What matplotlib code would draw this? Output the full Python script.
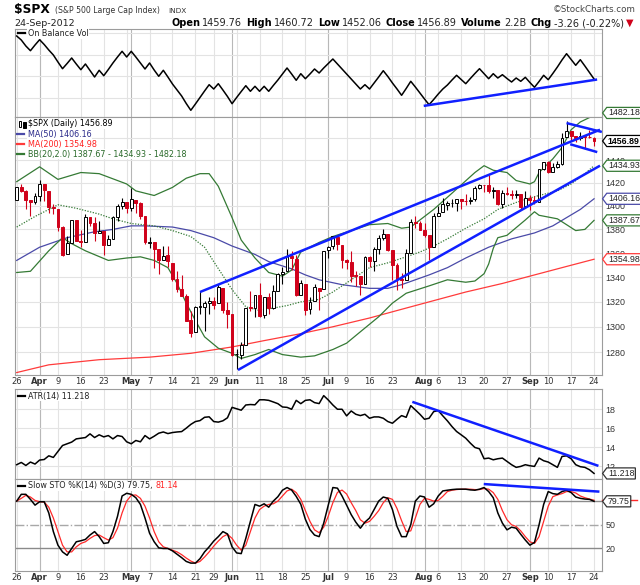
import matplotlib
matplotlib.use("Agg")
import matplotlib.pyplot as plt
from matplotlib.path import Path
from matplotlib.patches import Rectangle
from matplotlib.ticker import NullLocator

plt.rcParams['font.family'] = ['DejaVu Sans']
NARROW = ['Liberation Sans', 'DejaVu Sans']

# === Datos ($SPX diario, 26-Mar-2012 a 24-Sep-2012) ===
prev_close = 1397.11

opens = [1405.52, 1416.55, 1412.52, 1405.39, 1403.31, 1408.47, 1418.98, 1413.09, 1398.79, 1397.45,
         1382.18, 1358.98, 1368.77, 1387.61, 1370.27, 1369.57, 1390.78, 1385.08, 1376.96, 1378.53,
         1366.97, 1372.11, 1390.64, 1400.19, 1403.26, 1397.86, 1405.50, 1402.32, 1391.51, 1368.79,
         1369.16, 1363.20, 1354.58, 1358.11, 1351.93, 1338.36, 1330.78, 1324.82, 1305.05, 1295.73,
         1316.09, 1316.02, 1318.72, 1320.81, 1318.90, 1331.25, 1313.09, 1309.87, 1278.29, 1277.82,
         1285.61, 1316.15, 1314.99, 1325.72, 1309.40, 1324.02, 1314.88, 1329.19, 1342.42, 1344.83,
         1358.04, 1355.43, 1325.92, 1334.90, 1314.09, 1320.71, 1331.52, 1330.12, 1362.33, 1365.75,
         1373.72, 1367.09, 1354.66, 1352.96, 1341.40, 1341.29, 1334.81, 1356.50, 1353.68, 1363.58,
         1373.01, 1376.51, 1362.34, 1350.52, 1338.35, 1338.17, 1360.05, 1385.94, 1385.27, 1379.32,
         1375.13, 1365.45, 1391.04, 1394.46, 1401.23, 1402.26, 1402.58, 1405.87, 1404.36, 1403.89,
         1405.57, 1415.84, 1417.85, 1418.13, 1413.09, 1413.49, 1401.99, 1411.13, 1410.44, 1409.32,
         1410.08, 1400.07, 1406.54, 1404.94, 1403.74, 1432.12, 1437.92, 1429.13, 1433.56, 1436.56,
         1460.07, 1465.42, 1461.19, 1459.50, 1461.05, 1460.34, 1459.76]
highs = [1416.58, 1419.15, 1413.65, 1405.39, 1410.89, 1422.38, 1419.00, 1413.09, 1401.60, 1397.45,
         1383.01, 1374.71, 1388.13, 1387.61, 1379.66, 1392.76, 1390.78, 1390.46, 1387.40, 1378.53,
         1375.57, 1391.37, 1402.09, 1406.64, 1403.26, 1415.32, 1405.50, 1403.07, 1391.51, 1373.91,
         1369.16, 1363.73, 1365.88, 1365.66, 1351.93, 1344.94, 1341.78, 1326.36, 1312.24, 1316.39,
         1328.49, 1320.71, 1324.14, 1324.20, 1334.93, 1331.25, 1319.74, 1309.87, 1282.55, 1287.62,
         1315.13, 1329.05, 1325.81, 1335.52, 1324.31, 1327.28, 1333.68, 1343.32, 1348.22, 1363.46,
         1361.57, 1358.27, 1337.82, 1334.90, 1324.24, 1334.40, 1331.52, 1362.17, 1366.35, 1374.81,
         1373.85, 1367.09, 1354.87, 1361.54, 1345.00, 1341.29, 1357.70, 1357.26, 1365.36, 1375.26,
         1380.39, 1376.51, 1362.34, 1351.53, 1343.98, 1363.13, 1389.19, 1391.74, 1387.16, 1385.03,
         1375.13, 1394.16, 1399.63, 1407.14, 1404.14, 1405.95, 1405.98, 1405.87, 1410.03, 1407.73,
         1417.44, 1418.71, 1418.13, 1426.68, 1416.12, 1413.49, 1413.46, 1416.17, 1413.63, 1413.95,
         1410.08, 1413.09, 1409.31, 1408.81, 1432.12, 1437.92, 1438.74, 1437.76, 1439.15, 1463.76,
         1474.51, 1465.63, 1461.47, 1465.15, 1461.23, 1467.07, 1460.72]
lows = [1405.52, 1411.95, 1397.20, 1391.56, 1401.42, 1404.46, 1404.62, 1394.09, 1392.92, 1378.24,
        1357.38, 1358.98, 1368.77, 1369.85, 1365.38, 1369.57, 1383.29, 1370.30, 1376.96, 1358.79,
        1366.82, 1372.11, 1387.28, 1397.31, 1394.00, 1395.73, 1393.92, 1388.71, 1367.96, 1363.94,
        1347.75, 1343.13, 1354.58, 1348.89, 1336.61, 1328.41, 1324.79, 1304.86, 1291.98, 1295.73,
        1310.04, 1296.53, 1310.50, 1314.23, 1318.90, 1310.76, 1298.90, 1277.25, 1266.74, 1274.16,
        1285.61, 1312.68, 1307.77, 1307.73, 1306.62, 1310.51, 1314.14, 1329.19, 1334.46, 1344.83,
        1346.45, 1324.41, 1325.92, 1309.27, 1310.30, 1320.71, 1313.29, 1330.12, 1355.70, 1363.53,
        1363.02, 1348.03, 1346.65, 1336.27, 1333.25, 1325.41, 1334.81, 1348.51, 1345.07, 1358.96,
        1371.21, 1362.19, 1337.56, 1329.24, 1331.50, 1338.17, 1360.05, 1381.37, 1379.17, 1373.35,
        1354.65, 1365.45, 1391.04, 1394.46, 1396.13, 1398.80, 1395.62, 1397.32, 1400.60, 1401.83,
        1404.15, 1414.67, 1412.12, 1410.86, 1406.78, 1400.50, 1398.04, 1409.11, 1405.59, 1406.57,
        1397.01, 1398.96, 1396.56, 1401.25, 1403.74, 1431.45, 1428.98, 1429.13, 1432.99, 1435.34,
        1460.07, 1457.55, 1456.13, 1457.88, 1449.98, 1459.51, 1452.06]
closes = [1416.51, 1412.52, 1405.54, 1403.28, 1408.47, 1419.04, 1413.38, 1398.96, 1398.08, 1382.20,
          1358.59, 1368.71, 1387.57, 1370.26, 1369.57, 1390.78, 1385.14, 1376.92, 1378.53, 1366.94,
          1371.97, 1390.69, 1399.98, 1403.36, 1397.91, 1405.82, 1402.31, 1391.57, 1369.10, 1369.58,
          1363.72, 1354.58, 1357.99, 1353.39, 1338.35, 1330.66, 1324.80, 1304.86, 1295.22, 1315.99,
          1316.63, 1318.86, 1320.68, 1317.82, 1332.42, 1313.32, 1310.33, 1278.04, 1278.18, 1285.50,
          1315.13, 1314.99, 1325.66, 1308.93, 1324.18, 1314.88, 1329.10, 1342.84, 1344.78, 1357.98,
          1355.69, 1325.51, 1335.02, 1313.72, 1319.99, 1331.85, 1329.04, 1362.16, 1365.51, 1374.02,
          1367.58, 1354.68, 1352.46, 1341.47, 1341.45, 1334.76, 1356.78, 1353.64, 1363.67, 1372.78,
          1376.51, 1362.66, 1350.52, 1338.31, 1337.89, 1360.02, 1385.97, 1385.30, 1379.32, 1375.32,
          1365.00, 1390.99, 1394.23, 1401.35, 1402.22, 1402.80, 1405.87, 1404.11, 1403.93, 1405.53,
          1415.51, 1418.16, 1418.13, 1413.17, 1413.49, 1402.08, 1411.13, 1410.44, 1409.30, 1410.49,
          1399.48, 1406.58, 1404.94, 1403.44, 1432.12, 1437.92, 1429.08, 1433.56, 1436.56, 1459.99,
          1465.77, 1461.19, 1459.32, 1461.05, 1460.26, 1460.15, 1456.89]

# medias y bandas (dia de negociacion, valor)
ma50_day = [0, 5, 11, 17, 21, 25, 28, 34, 38, 43, 47, 52, 55, 60, 63, 66, 71, 77, 81, 84,
            90, 94, 98, 103, 108, 113, 117, 120, 123, 126]
ma50 = [1354, 1365, 1373, 1378, 1380, 1383, 1383, 1382, 1379, 1373, 1366, 1359, 1353, 1347, 1342,
        1338, 1334, 1331, 1331, 1334, 1342, 1348, 1356, 1365, 1372, 1377, 1383, 1390, 1397, 1406.16]
ma200_day = [0, 7, 18, 29, 38, 47, 54, 62, 69, 77, 84, 91, 98, 106, 113, 120, 126]
ma200 = [1264, 1270, 1274, 1276, 1279, 1284, 1289, 1294.5, 1300, 1307, 1314, 1321, 1328, 1335,
         1342, 1349, 1354.98]
bb_up_day = [0, 5, 9, 14, 18, 24, 26, 30, 34, 37, 40, 42, 44, 47, 49, 52, 55, 58, 60, 62, 66, 69,
             73, 77, 81, 84, 86, 88, 91, 95, 100, 102, 104, 107, 109, 112, 113, 114, 117, 119,
             121, 123, 125, 126]
bb_up = [1421, 1434, 1423, 1429, 1428, 1419, 1413, 1409, 1416, 1424, 1428, 1428, 1417, 1390, 1371,
         1356, 1344, 1341, 1346, 1361, 1369, 1374, 1379, 1384, 1385, 1381, 1382, 1388, 1397, 1411,
         1429, 1435, 1431, 1429, 1422, 1419, 1421, 1429, 1441, 1451, 1467, 1474, 1478, 1482.18]
bb_mid_day = [0, 4, 9, 13, 18, 21, 25, 30, 34, 38, 41, 43, 47, 50, 53, 56, 59, 62, 66, 69, 73,
              77, 81, 85, 88, 91, 94, 98, 102, 105, 109, 113, 118, 121, 124, 126]
bb_mid = [1382, 1391, 1401, 1398, 1393, 1389, 1385, 1383, 1379, 1374, 1365, 1353, 1330, 1316,
          1313, 1315, 1317, 1320, 1322, 1328, 1338, 1348, 1352, 1357, 1361, 1366, 1372, 1381,
          1389, 1397, 1403, 1408, 1413, 1419, 1428, 1434.93]
bb_low_day = [0, 3, 7, 10, 12, 15, 20, 24, 27, 30, 33, 35, 37, 39, 41, 44, 47, 49, 52, 55, 58,
              62, 65, 69, 72, 75, 79, 82, 85, 90, 94, 98, 100, 102, 103, 104, 105, 107, 111, 113,
              114, 118, 120, 122, 124, 126]
bb_low = [1344, 1345, 1362, 1373, 1368, 1362, 1354, 1356, 1357, 1354, 1348, 1335, 1319, 1305,
          1292, 1283, 1279, 1275, 1278, 1282, 1278, 1276, 1277, 1282, 1287, 1296, 1308, 1319,
          1327, 1333, 1338, 1336, 1337, 1343, 1351, 1364, 1373, 1375, 1388, 1395, 1392, 1389,
          1384, 1379, 1380, 1387.67]

# On Balance Volume (unidades relativas, sin escala en el grafico)
obv = [81, 77, 71, 66.3, 72, 77.3, 72.5, 67, 62, 55, 48.3, 53.5, 59, 53, 47.3, 53, 46.5, 40, 46.7,
       41.3, 47.5, 54, 60, 65.7, 60, 65.7, 60, 54, 48, 54, 47, 40.7, 46.7, 40, 33, 27, 21, 13.5,
       6.7, 13, 19.5, 26, 32.3, 28, 33.3, 27, 20.5, 13.3, 19.5, 25.5, 31.3, 25.7, 30.7, 25.7,
       30.7, 25.7, 31.5, 37, 43, 49, 43, 36.7, 43.3, 38.3, 43, 48, 44, 49, 53.5, 58, 53, 48, 43,
       38, 33, 28, 32.3, 28, 34, 40, 46.3, 40.5, 34, 28, 21.7, 28.5, 35.7, 30, 24, 18, 12.3, 17.5,
       23, 28, 32, 37, 41.7, 37.5, 33.3, 38.5, 43.5, 48.3, 43.3, 38.3, 43.3, 39, 42.3, 38.5, 35,
       39, 35.7, 39.7, 34.5, 29.7, 35.5, 41.7, 37.3, 43.5, 50, 57, 63.3, 57.5, 51.7, 57.3, 51,
       44.5, 38]
obv_grid = [19, 40.7, 62.3, 84]

atr = [12.14, 12.38, 12.06, 12.42, 12.21, 12.63, 12.69, 13.08, 12.91, 13.54, 14.17, 14.35, 14.53,
       14.87, 14.94, 15.01, 15.4, 15.01, 15.3, 15.08, 15.22, 14.87, 15.22, 15.12, 14.56, 14.35,
       14.7, 14.56, 15.22, 14.87, 15.15, 15.47, 15.6, 15.43, 15.54, 15.6, 15.64, 16.0, 16.4, 16.7,
       16.8, 17.15, 17.2, 16.7, 16.64, 16.78, 17.1, 18.2, 18.05, 17.9, 18.45, 18.5, 18.47, 19.0,
       19.0, 18.94, 18.77, 18.59, 18.24, 18.2, 18.0, 18.94, 18.59, 18.94, 19.0, 18.7, 18.6,
       19.44, 18.98, 18.45, 18.0, 18.0, 17.3, 17.82, 17.47, 17.33, 17.47, 17.05, 17.19, 17.19,
       17.05, 16.7, 16.52, 16.94, 17.33, 17.15, 18.38, 17.93, 17.47, 16.94, 17.05, 17.75, 17.86,
       17.3, 16.77, 16.17, 15.65, 15.3, 14.94, 14.42, 13.96, 13.82, 12.77, 12.84, 12.66, 12.77,
       12.84, 12.49, 12.14, 11.86, 11.96, 12.14, 12.03, 11.96, 12.84, 12.56, 12.42, 12.14, 11.86,
       13.01, 13.08, 12.77, 12.14, 11.93, 11.86, 11.61, 11.218]

sto_k = [80.0, 88.6, 88.6, 82.2, 74.9, 79.2, 79.2, 65.0, 41.4, 24.2, 15.7, 11.4, 20.0, 28.5, 29.8,
         31.5, 37.1, 41.4, 35.0, 26.4, 27.3, 41.4, 60.7, 86.5, 89.9, 88.6, 84.3, 75.8, 58.6, 39.3,
         28.5, 20.8, 20.0, 20.0, 17.0, 12.7, 8.4, 3.6, 1.5, 1.5, 7.1, 15.7, 22.1, 29.4, 35.0, 41.4,
         38.4, 22.1, 14.4, 13.5, 32.8, 54.3, 75.8, 73.6, 76.6, 72.3, 80.0, 85.6, 93.8, 97.2, 94.0,
         86.0, 76.0, 57.0, 44.0, 37.0, 35.0, 52.0, 75.0, 97.2, 96.4, 86.5, 74.9, 62.9, 53.4, 45.7,
         53.4, 58.6, 69.3, 80.0, 85.2, 83.5, 69.3, 47.9, 35.0, 35.0, 50.0, 80.0, 86.5, 85.2, 72.3,
         76.6, 86.5, 92.9, 93.8, 94.6, 95.1, 95.1, 95.1, 94.2, 93.8, 95.1, 97.2, 92.1, 84.3, 65.0,
         52.1, 43.6, 47.0, 45.7, 38.0, 30.7, 24.2, 27.7, 50.0, 75.8, 92.1, 89.5, 88.6, 92.1, 93.8,
         90.8, 85.2, 83.5, 82.6, 82.2, 79.75]
sto_d = [80.0, 83.5, 87.3, 85.2, 80.9, 79.2, 78.8, 72.3, 58.6, 41.4, 24.2, 15.7, 15.7, 22.1, 26.4,
         28.5, 32.8, 36.3, 37.1, 33.7, 30.7, 33.7, 45.7, 65.0, 80.0, 87.3, 87.8, 83.5, 73.6, 58.6,
         41.4, 28.5, 22.1, 20.0, 17.8, 15.7, 12.2, 7.9, 4.1, 1.5, 3.6, 9.2, 15.7, 23.0, 29.4, 35.0,
         38.0, 32.8, 24.2, 17.8, 24.2, 41.4, 58.6, 69.3, 73.6, 75.8, 76.6, 80.0, 86.5, 92.9, 95.1,
         90.8, 82.2, 68.0, 54.3, 43.6, 40.0, 47.0, 61.0, 78.0, 91.0, 94.0, 89.0, 78.0, 68.0, 56.4,
         52.1, 54.3, 60.7, 68.0, 77.9, 84.3, 82.2, 70.6, 55.2, 41.4, 42.3, 58.6, 75.8, 83.5, 82.2,
         80.0, 80.9, 86.1, 92.1, 93.8, 94.6, 95.1, 95.1, 95.1, 94.6, 94.6, 95.9, 95.1, 90.8, 82.2,
         68.0, 56.4, 50.0, 47.9, 42.3, 35.0, 28.5, 26.4, 35.0, 54.3, 73.6, 85.6, 87.8, 89.5, 92.1,
         92.1, 90.3, 86.5, 84.3, 82.6, 81.14]

# lineas de tendencia dibujadas a mano (dia, valor)
channel_top = [(40.0, 1328), (127.3, 1467)]
channel_bottom = [(48.3, 1266), (127.3, 1435)]
flag_top = [(120.0, 1473), (127.7, 1465)]
flag_bottom = [(120.8, 1454), (126.7, 1447)]
obv_trend = [(89.1, 11.3), (126.4, 37.3)]
atr_trend = [(86.6, 18.74), (126.7, 12.06)]
sto_trend = [(102.2, 101.5), (126.9, 92.1)]

# eje de fechas
week_starts = [0, 5, 9, 14, 19, 24, 29, 34, 39, 43, 48, 53, 58, 63, 68, 72, 77, 82, 87, 92, 97,
               102, 107, 112, 116, 121, 126]
month_starts = [5, 25, 47, 68, 89, 112]
tick_days = [0, 5, 9, 14, 19, 25, 29, 34, 39, 43, 47, 53, 58, 63, 68, 72, 77, 82, 89, 92, 97, 102,
             107, 112, 116, 121, 126]
tick_labels = ['26', 'Apr', '9', '16', '23', 'May', '7', '14', '21', '29', 'Jun', '11', '18', '25',
               'Jul', '9', '16', '23', 'Aug', '6', '13', '20', '27', 'Sep', '10', '17', '24']
months = ['Apr', 'May', 'Jun', 'Jul', 'Aug', 'Sep']
price_ticks = [1280, 1300, 1320, 1340, 1360, 1380, 1400, 1420, 1440, 1460]

# === Estilo ===
RED = '#d0021b'
BLUE = '#1020ff'
GREEN = '#357a35'
NAVY = '#4a4aa8'
MA_RED = '#ff3b3b'
GRID = '#e3e3e3'
MONTH_GRID = '#b8b8b8'
W, H = 640, 585


def tag_box(x0, y0, width, height, mutation_size):
    # etiqueta con punta hacia la izquierda (estilo StockCharts)
    pad = 0.12 * mutation_size
    x0, y0 = x0 - pad, y0 - pad
    x1, y1 = x0 + width + 2 * pad, y0 + height + 2 * pad
    h = (y1 - y0) / 2
    verts = [(x0 - h * 0.75, y0 + h), (x0, y0), (x1, y0), (x1, y1), (x0, y1), (x0 - h * 0.75, y0 + h)]
    codes = [Path.MOVETO] + [Path.LINETO] * 4 + [Path.CLOSEPOLY]
    return Path(verts, codes)


def tag(ax, value, text, edge, bold=False, color='#222222'):
    ax.annotate(text, xy=(1, value), xycoords=('axes fraction', 'data'),
                xytext=(4.4, 0), textcoords='offset points', ha='left', va='center',
                fontsize=6.3, family=NARROW, fontweight='bold' if bold else 'normal', color=color,
                bbox=dict(boxstyle=tag_box, fc='white', ec=edge, lw=0.9),
                annotation_clip=False, zorder=20)


def rect(top, bottom):
    return [15 / W, 1 - bottom / H, 586.7 / W, (bottom - top) / H]


fig = plt.figure(figsize=(6.4, 5.85), dpi=100)
ax_obv = fig.add_axes(rect(29, 117))
ax_px = fig.add_axes(rect(117, 375))
ax_atr = fig.add_axes(rect(389, 479))
ax_sto = fig.add_axes(rect(479, 571))
panels = [ax_obv, ax_px, ax_atr, ax_sto]

days = list(range(len(closes)))

for ax in panels:
    ax.set_xlim(-0.37, 127.67)
    for s in ax.spines.values():
        s.set_color('#9c9c9c')
        s.set_linewidth(0.8)
    for d in week_starts:
        ax.axvline(d, color=GRID, lw=0.8, zorder=0)
    for d in month_starts:
        ax.axvline(d, color=MONTH_GRID, lw=0.8, zorder=0)
    ax.yaxis.tick_right()
    ax.tick_params(axis='y', length=0, pad=2.5, labelsize=6.4, labelcolor='#333333')
    ax.tick_params(axis='x', length=0)
    ax.set_xticks([])
    ax.yaxis.set_minor_locator(NullLocator())

# === Panel OBV ===
ax_obv.set_ylim(0, 88)
ax_obv.set_yticks(obv_grid)
ax_obv.set_yticklabels([])
for g in obv_grid:
    ax_obv.axhline(g, color=GRID, lw=0.8, zorder=0)
ax_obv.plot(days, obv, color='black', lw=1.1, zorder=3)
ax_obv.plot(*zip(*obv_trend), color=BLUE, lw=1.8, zorder=4)
ax_obv.plot([(18 - 15) / 586.7, (25 - 15) / 586.7], [0.95, 0.95], color='black', lw=1.6,
            transform=ax_obv.transAxes)
ax_obv.text((28 - 15) / 586.7, 0.95, 'On Balance Vol', transform=ax_obv.transAxes, fontsize=5.8,
            va='center', color='#222222', bbox=dict(fc='white', ec='none', pad=0.5))

# === Panel precio ===
ax_px.set_yscale('log')
ax_px.set_ylim(1262.1, 1478.5)
ax_px.yaxis.set_minor_locator(NullLocator())
ax_px.set_yticks(price_ticks)
ax_px.set_yticklabels([str(t) for t in price_ticks])
for t in price_ticks:
    ax_px.axhline(t, color=GRID, lw=0.8, zorder=0)

ax_px.plot(ma200_day, ma200, color=MA_RED, lw=0.9, zorder=2)
ax_px.plot(ma50_day, ma50, color=NAVY, lw=0.9, zorder=2)
ax_px.plot(bb_up_day, bb_up, color=GREEN, lw=0.9, zorder=2)
ax_px.plot(bb_low_day, bb_low, color=GREEN, lw=0.9, zorder=2)
ax_px.plot(bb_mid_day, bb_mid, color=GREEN, lw=0.9, ls=(0, (1, 1.2)), zorder=2)

prev = [prev_close] + closes[:-1]
colors = ['black' if c >= p else RED for c, p in zip(closes, prev)]
faces = ['white' if c > o else col for o, c, col in zip(opens, closes, colors)]
bottoms = [min(o, c) for o, c in zip(opens, closes)]
heights = [max(abs(c - o), 0.5) for o, c in zip(opens, closes)]
ax_px.vlines(days, lows, highs, colors=colors, lw=0.8, zorder=3)
ax_px.bar(days, heights, bottom=bottoms, width=0.62, color=faces, edgecolor=colors, lw=0.7,
          zorder=4)

for line in (channel_top, channel_bottom, flag_top, flag_bottom):
    ax_px.plot(*zip(*line), color=BLUE, lw=1.8, zorder=6, solid_capstyle='butt')


def ax_x(px):
    return (px - 15) / 586.7


def ax_y(py):
    return 1 - (py - 117) / 258


# icono de velas
ax_px.add_patch(Rectangle((ax_x(18.5), ax_y(127)), ax_x(21) - ax_x(18.5), ax_y(121) - ax_y(127),
                          transform=ax_px.transAxes, fc='white', ec='black', lw=0.7, zorder=7))
ax_px.add_patch(Rectangle((ax_x(23), ax_y(127.5)), ax_x(25.5) - ax_x(23), ax_y(122) - ax_y(127.5),
                          transform=ax_px.transAxes, fc='black', ec='black', lw=0.7, zorder=7))
legend_px = [
    (124, '$SPX (Daily) %.2f' % closes[-1], 'black', None),
    (134, 'MA(50) %.2f' % ma50[-1], '#2a2a8a', NAVY),
    (144, 'MA(200) %.2f' % ma200[-1], '#ff2020', MA_RED),
    (154, 'BB(20,2.0) %.2f - %.2f - %.2f' % (bb_low[-1], bb_mid[-1], bb_up[-1]), '#2a6a2a', GREEN),
]
for py, txt, tc, lc in legend_px:
    if lc is not None:
        ax_px.plot([ax_x(17), ax_x(24)], [ax_y(py)] * 2, color=lc, lw=1.6,
                   transform=ax_px.transAxes, zorder=7)
    ax_px.text(ax_x(27.5), ax_y(py), txt, transform=ax_px.transAxes, fontsize=5.8, va='center',
               color=tc, zorder=7, bbox=dict(fc='white', ec='none', pad=0.4))

tag(ax_px, bb_up[-1], '%.2f' % bb_up[-1], GREEN)
tag(ax_px, closes[-1], '%.2f' % closes[-1], 'black', bold=True, color='black')
tag(ax_px, bb_mid[-1], '%.2f' % bb_mid[-1], GREEN)
tag(ax_px, ma50[-1], '%.2f' % ma50[-1], NAVY)
tag(ax_px, bb_low[-1], '%.2f' % bb_low[-1], GREEN)
tag(ax_px, ma200[-1], '%.2f' % ma200[-1], MA_RED)

# === Panel ATR ===
ax_atr.set_ylim(10.63, 20.14)
ax_atr.set_yticks([12, 14, 16, 18])
ax_atr.set_yticklabels(['12', '14', '16', '18'])
for t in [12, 14, 16, 18]:
    ax_atr.axhline(t, color=GRID, lw=0.8, zorder=0)
ax_atr.plot(days, atr, color='black', lw=1.1, zorder=3)
ax_atr.plot(*zip(*atr_trend), color=BLUE, lw=1.8, zorder=4)
ax_atr.plot([ax_x(18), ax_x(25)], [0.92, 0.92], color='black', lw=1.6, transform=ax_atr.transAxes)
ax_atr.text(ax_x(28), 0.92, 'ATR(14) %.3f' % atr[-1], transform=ax_atr.transAxes, fontsize=5.8,
            va='center', color='#222222', bbox=dict(fc='white', ec='none', pad=0.4))
tag(ax_atr, atr[-1], '%.3f' % atr[-1], '#333333')

# === Panel Slow STO ===
ax_sto.set_ylim(-8.5, 108)
ax_sto.set_yticks([20, 50])
ax_sto.set_yticklabels(['20', '50'])
ax_sto.axhline(20, color='#8a8a8a', lw=1.0, zorder=1)
ax_sto.axhline(80, color='#8a8a8a', lw=1.0, zorder=1)
ax_sto.axhline(50, color='#a8a8a8', lw=1.0, ls='-.', zorder=1)
ax_sto.plot(days, sto_d, color='#ff2a2a', lw=0.9, zorder=3)
ax_sto.plot(days, sto_k, color='black', lw=1.1, zorder=4)
ax_sto.plot(*zip(*sto_trend), color=BLUE, lw=1.8, zorder=5)
ax_sto.plot([1.0, 1.06], [sto_d[-1], sto_d[-1]], color='#ff2a2a', lw=1.0, clip_on=False,
            transform=ax_sto.get_yaxis_transform(), zorder=6)
ax_sto.plot([ax_x(18), ax_x(25)], [0.925, 0.925], color='black', lw=1.6, transform=ax_sto.transAxes)
t1 = ax_sto.text(ax_x(28), 0.925, 'Slow STO %%K(14) %%D(3) %.2f, ' % sto_k[-1],
                 transform=ax_sto.transAxes, fontsize=5.8, va='center', color='#222222',
                 bbox=dict(fc='white', ec='none', pad=0.4))
tag(ax_sto, sto_k[-1], '%.2f' % sto_k[-1], '#333333')

# etiquetas de fechas
for ax in (ax_px, ax_sto):
    ax.set_xticks(tick_days)
    ax.set_xticklabels(tick_labels)
    ax.tick_params(axis='x', labelsize=6, pad=1.5, labelcolor='#333333')
    for lbl in ax.get_xticklabels():
        if lbl.get_text() in months:
            lbl.set_fontweight('bold')
for ax in panels:
    for lbl in ax.get_yticklabels():
        lbl.set_family(NARROW)

# === Cabecera ===
fig.text(14 / W, 1 - 13 / H, '$SPX', fontsize=8.8, fontweight='bold', va='baseline')
fig.text(55 / W, 1 - 13 / H, '(S&P 500 Large Cap Index)', fontsize=5.6, color='#333333',
         va='baseline')
fig.text(168 / W, 1 - 13 / H, 'INDX', fontsize=5.3, color='#333333', va='baseline')
fig.text(636 / W, 1 - 12.5 / H, '\u00a9StockCharts.com', fontsize=6.3, color='#444444',
         va='baseline', ha='right')
fig.text(14 / W, 1 - 26 / H, '24-Sep-2012', fontsize=6.8, color='#222222', va='baseline')

renderer = fig.canvas.get_renderer()
parts = [('Open', 'bold', 'black', 2), ('1459.76', 'normal', '#222222', 4),
         ('High', 'bold', 'black', 2), ('1460.72', 'normal', '#222222', 4),
         ('Low', 'bold', 'black', 2), ('1452.06', 'normal', '#222222', 4),
         ('Close', 'bold', 'black', 2), ('1456.89', 'normal', '#222222', 4),
         ('Volume', 'bold', 'black', 2), ('2.2B', 'normal', '#222222', 4),
         ('Chg', 'bold', 'black', 2), ('-3.26 (-0.22%)', 'normal', '#222222', 2),
         ('\u25bc', 'normal', RED, 0)]
objs = [fig.text(0, 1 - 26 / H, s, fontsize=7.0, fontweight=wt, color=c, va='baseline')
        for s, wt, c, g in parts]
widths = [o.get_window_extent(renderer).width for o in objs]
x = 633 - (sum(widths) + sum(p[3] for p in parts))
for o, w, p in zip(objs, widths, parts):
    o.set_x(x / W)
    x += w + p[3]

# texto rojo del %D a continuacion de la leyenda STO
fig.canvas.draw()
bb = t1.get_window_extent(renderer)
fig.text(bb.x1 / W + 0.001, bb.y0 / H + 0.0008, '%.2f' % sto_d[-1], fontsize=5.8, color='#ff2020',
         va='bottom')

fig.savefig('out.png', dpi=100, facecolor='white')
